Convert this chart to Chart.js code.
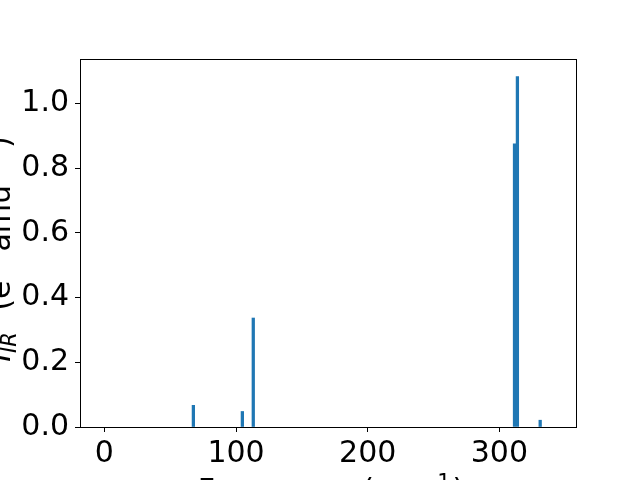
<!DOCTYPE html>
<html>
<head>
<meta charset="utf-8">
<script src="https://cdn.jsdelivr.net/npm/chart.js@4.4.0/dist/chart.umd.min.js"></script>
<style>
  html, body { margin: 0; padding: 0; background: #fff; }
  #wrap { width: 640px; height: 480px; }
</style>
</head>
<body>
<div id="wrap"><canvas id="chart" width="640" height="480"></canvas></div>
<script>
// IR spectrum: frequencies (cm^-1) and intensities
const freqs = [67.6, 104.8, 113.1, 311.5, 313.7, 331.0];
const intensities = [0.067, 0.048, 0.337, 0.876, 1.084, 0.021];
const xTicks = [0, 100, 200, 300];
const yTicks = [0.0, 0.2, 0.4, 0.6, 0.8, 1.0];

const FONT = 'DejaVu Sans';
const FS = 30;

// draw a list of text pieces (plain / sub / sup) centred on the origin
function drawPieces(ctx, pieces) {
    const fontOf = p => (p.italic ? 'oblique ' : '') + (FS * (p.scale || 1)) + 'px "' + FONT + '"';
    let total = 0;
    pieces.forEach(p => {
        ctx.font = fontOf(p);
        p.w = ctx.measureText(p.t).width + (p.gap || 0);
        total += p.w;
    });
    let x = -total / 2;
    pieces.forEach(p => {
        ctx.font = fontOf(p);
        ctx.fillText(p.t, x, (p.dy || 0) * FS);
        x += p.w;
    });
}

const axisLabels = {
    id: 'axisLabels',
    afterDraw(chart) {
        const { ctx, chartArea } = chart;
        ctx.save();
        // frame round the axes
        ctx.strokeStyle = '#000';
        ctx.lineWidth = 1;
        ctx.strokeRect(Math.round(chartArea.left) + 0.5, Math.round(chartArea.top) + 0.5,
            Math.round(chartArea.right - chartArea.left), Math.round(chartArea.bottom - chartArea.top));

        ctx.fillStyle = '#000';
        ctx.textBaseline = 'alphabetic';
        ctx.textAlign = 'left';

        // x label
        ctx.save();
        ctx.translate((chartArea.left + chartArea.right) / 2 + 3, 500);
        drawPieces(ctx, [
            { t: 'Frequency (cm' },
            { t: '\u22121', scale: 0.7, dy: -0.38, gap: 2 },
            { t: ')' }
        ]);
        ctx.restore();

        // y label
        ctx.save();
        ctx.translate(10, (chartArea.top + chartArea.bottom) / 2 + 6);
        ctx.rotate(-Math.PI / 2);
        drawPieces(ctx, [
            { t: 'I', italic: true },
            { t: 'IR', italic: true, scale: 0.7, dy: 0.2, gap: 12 },
            { t: ' (e' },
            { t: '2', scale: 0.7, dy: -0.38, gap: 6 },
            { t: ' amu' },
            { t: '\u22121', scale: 0.7, dy: -0.38, gap: 6 },
            { t: ')' }
        ]);
        ctx.restore();
        ctx.restore();
    }
};

const tickFont = { family: FONT, size: FS };

new Chart(document.getElementById('chart'), {
    type: 'bar',
    data: {
        datasets: [{
            data: freqs.map((f, i) => ({ x: f, y: intensities[i] })),
            backgroundColor: '#1f77b4',
            borderWidth: 0,
            barThickness: 2.6,
            grouped: false
        }]
    },
    options: {
        responsive: false,
        animation: false,
        layout: { padding: { left: 0, right: 64, top: 59, bottom: 0 } },
        plugins: {
            legend: { display: false },
            tooltip: { enabled: false }
        },
        scales: {
            x: {
                type: 'linear',
                min: -18.5,
                max: 358.2,
                offset: false,
                afterBuildTicks: s => { s.ticks = xTicks.map(v => ({ value: v })); },
                afterFit: s => { s.height = 53; },
                ticks: { font: tickFont, color: '#000', padding: 4, maxRotation: 0, autoSkip: false },
                grid: { offset: false, drawOnChartArea: false, tickLength: 5, tickColor: '#000', tickWidth: 1 },
                border: { color: '#000', width: 1 }
            },
            y: {
                min: 0,
                max: 1.138,
                afterBuildTicks: s => { s.ticks = yTicks.map(v => ({ value: v })); },
                afterFit: s => { s.width = 80; },
                ticks: {
                    font: tickFont, color: '#000', padding: 6, autoSkip: false,
                    callback: v => v.toFixed(1)
                },
                grid: { drawOnChartArea: false, tickLength: 5, tickColor: '#000', tickWidth: 1 },
                border: { color: '#000', width: 1 }
            }
        }
    },
    plugins: [axisLabels]
});
</script>
</body>
</html>
